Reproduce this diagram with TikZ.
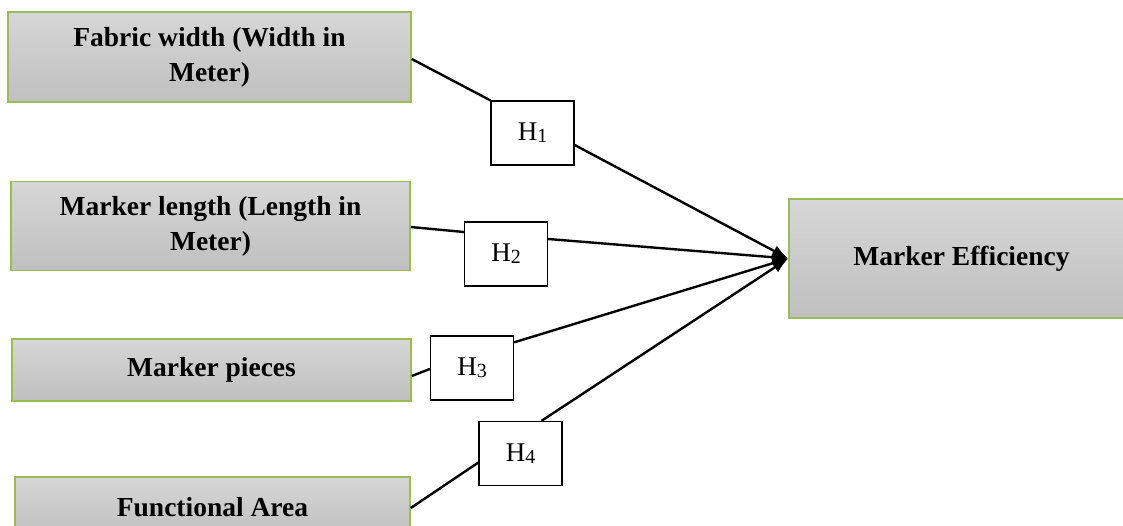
\documentclass[tikz,border=0pt]{standalone}
\usepackage{fontspec}
\setmainfont{Liberation Serif}
\usepackage{tikz}
\usetikzlibrary{arrows.meta, positioning, calc}
\definecolor{boxgreen}{HTML}{9BBB59}
\newcommand{\hyp}[1]{H{\fontsize{20}{20}\selectfont\raisebox{-2pt}{#1}}}

\begin{document}
\begin{tikzpicture}[x=1pt, y=-1pt,
    varbox/.style={draw=boxgreen, line width=1.5pt, top color=black!16, bottom color=black!25,
        align=center, inner sep=0pt, font=\bfseries\fontsize{27.5}{35}\selectfont},
    hypbox/.style={draw, line width=1.3pt, fill=white, minimum width=83pt, minimum height=64pt,
        inner sep=0pt, font=\fontsize{27}{30}\selectfont},
    link/.style={line width=2.4pt},
    arrowlink/.style={line width=2.4pt, -{Latex[length=16pt, width=12pt]}}]
    \clip (0,0) rectangle (1123,526);
    \fill[white] (0,0) rectangle (1123,526);

    % variables
    \node[varbox, minimum width=403pt, minimum height=90pt] (fw) at (209.5,57) {Fabric width (Width in\\Meter)};
    \node[varbox, minimum width=399pt, minimum height=89pt] (ml) at (210.5,226) {Marker length (Length in\\Meter)};
    \node[varbox, minimum width=399pt, minimum height=62pt] (mp) at (211.5,370) {Marker pieces};
    \node[varbox, minimum width=395pt, minimum height=60pt] (fa) at (212.5,507) {Functional Area};

    % outcome
    \node[varbox, minimum width=345pt, minimum height=119pt] (me) at (961.5,258.5) {Marker Efficiency};

    % hypotheses
    \node[hypbox] (h1) at (532.5,133) {\hyp{1}};
    \node[hypbox] (h2) at (506,254) {\hyp{2}};
    \node[hypbox] (h3) at (472,368) {\hyp{3}};
    \node[hypbox] (h4) at (520.5,453.5) {\hyp{4}};

    % links to hypotheses
    \draw[link] ($(fw.east)+(0,2)$) -- (h1.north west);
    \draw[link] ($(ml.east)+(0,1)$) -- ($(h2.west)+(0,-22)$);
    \draw[link] ($(mp.east)+(0,6)$) -- ($(h3.west)+(0,1)$);
    \draw[link] ($(fa.east)+(0,1)$) -- ($(h4.west)+(0,9)$);

    % links to outcome
    \draw[arrowlink] ($(h1.east)+(0,12)$) -- (me.west);
    \draw[arrowlink] ($(h2.east)+(0,-15)$) -- (me.west);
    \draw[arrowlink] ($(h3.north east)+(0,7)$) -- (me.west);
    \draw[arrowlink] ($(h4.north)+(21,0)$) -- (me.west);
\end{tikzpicture}
\end{document}
